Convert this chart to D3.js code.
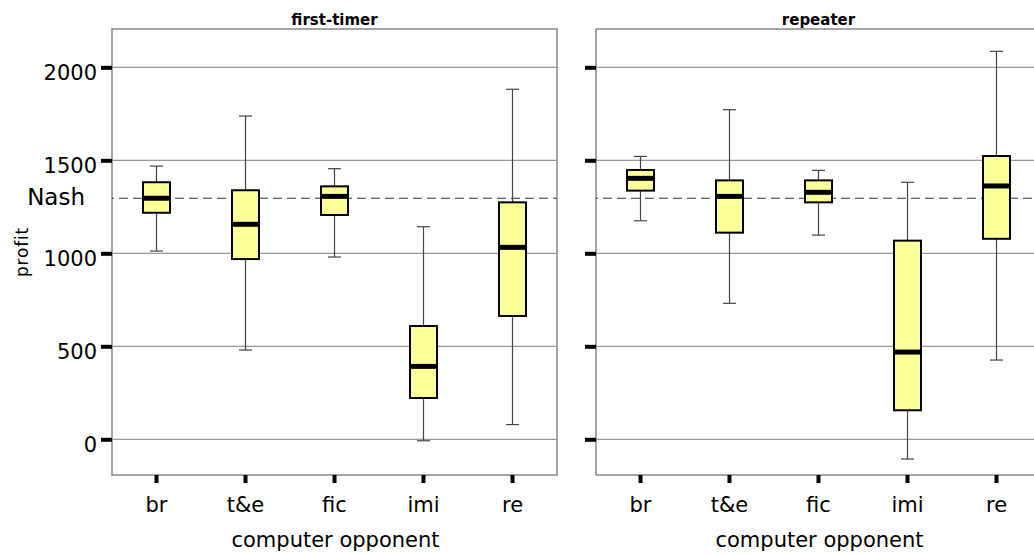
<!DOCTYPE html>
<html>
<head>
<meta charset="utf-8">
<script src="https://cdn.jsdelivr.net/npm/d3@7"></script>
<style>
  body { margin: 0; background: #fff; }
  text { font-family: "DejaVu Sans", sans-serif; fill: #000; }
</style>
</head>
<body>
<svg id="chart" width="1034" height="554"></svg>
<script>
// chart values
var categories = ["br", "t&e", "fic", "imi", "re"];
var groups = ["first-timer", "repeater"];
var yTicks = [0, 500, 1000, 1500, 2000];
var nash = 1296;

// one row per group, one value per category
var whiskerLow  = [[1012, 480,  980,   -8,   79], [1175,  731, 1098, -106,  426]];
var quart1      = [[1218, 969, 1206,  222,  663], [1337, 1111, 1274,  156, 1078]];
var medians     = [[1296, 1156, 1306, 392, 1032], [1403, 1306, 1328,  469, 1362]];
var quart3      = [[1382, 1339, 1360, 609, 1274], [1448, 1392, 1392, 1068, 1523]];
var whiskerHigh = [[1469, 1738, 1455, 1143, 1882], [1521, 1772, 1446, 1382, 2086]];

var svg = d3.select("#chart");
var FONT = "DejaVu Sans, sans-serif";

var panelLeft = [112, 596],
    panelW = 445,
    plotTop = 29, plotBottom = 475;

var y = d3.scaleLinear().domain([-192, 2206]).range([plotBottom, plotTop]);
var x = d3.scaleBand().domain(categories).range([0, panelW]);

var boxW = 27, capW = 13;

groups.forEach(function(name, gi) {
    var g = svg.append("g").attr("transform", "translate(" + panelLeft[gi] + ",0)");

    // grid
    g.selectAll(".grid").data(yTicks).enter().append("line")
        .attr("x1", 0).attr("x2", panelW)
        .attr("y1", d => y(d)).attr("y2", d => y(d))
        .style("stroke", "#999").style("stroke-width", 1.3);

    // panel frame
    g.append("rect")
        .attr("x", 0).attr("y", plotTop)
        .attr("width", panelW).attr("height", plotBottom - plotTop)
        .style("fill", "none").style("stroke", "#888").style("stroke-width", 1.5);

    // nash line
    g.append("line")
        .attr("x1", 0).attr("x2", panelW)
        .attr("y1", y(nash)).attr("y2", y(nash))
        .style("stroke", "#333").style("stroke-width", 1)
        .style("stroke-dasharray", "9,5").style("stroke-dashoffset", -7);

    // y axis (thick ticks)
    var yAxis = g.append("g").call(d3.axisLeft(y).tickValues(yTicks).tickSize(11).tickFormat(""));
    yAxis.select(".domain").remove();
    yAxis.selectAll(".tick line").style("stroke", "#000").style("stroke-width", 4);

    if (gi == 0) {
        yAxis.selectAll(".tick text")
            .text(d => d)
            .attr("x", -15).attr("dy", null).attr("y", 12.5)
            .attr("text-anchor", "end")
            .style("font-size", "21px")
            .style("font-family", FONT).style("fill", "#000");
    }

    // x axis
    var xAxis = g.append("g").attr("transform", "translate(0," + plotBottom + ")")
        .call(d3.axisBottom(x).tickSize(8));
    xAxis.select(".domain").remove();
    xAxis.selectAll(".tick line").style("stroke", "#000").style("stroke-width", 4);
    xAxis.selectAll(".tick text")
        .attr("y", 37).attr("dy", null)
        .style("font-size", "21px")
        .style("font-family", FONT).style("fill", "#000");

    g.append("text")
        .attr("x", panelW / 2 + 1).attr("y", 547)
        .attr("text-anchor", "middle")
        .style("font-size", "21px")
        .text("computer opponent");

    g.append("text")
        .attr("x", panelW / 2).attr("y", 25)
        .attr("text-anchor", "middle")
        .style("font-size", "15px").style("font-weight", "bold")
        .text(name);

    // boxes
    var rows = categories.map(function(c, i) {
        return { cat: c, lo: whiskerLow[gi][i], q1: quart1[gi][i], med: medians[gi][i],
                 q3: quart3[gi][i], hi: whiskerHigh[gi][i] };
    });

    var b = g.selectAll(".box").data(rows).enter().append("g")
        .attr("transform", d => "translate(" + (x(d.cat) + x.bandwidth() / 2) + ",0)");

    b.append("line")
        .attr("x1", 0).attr("x2", 0)
        .attr("y1", d => y(d.lo)).attr("y2", d => y(d.hi))
        .style("stroke", "#444").style("stroke-width", 1.2);
    b.append("line")
        .attr("x1", -capW / 2).attr("x2", capW / 2)
        .attr("y1", d => y(d.hi)).attr("y2", d => y(d.hi))
        .style("stroke", "#444").style("stroke-width", 1.2);
    b.append("line")
        .attr("x1", -capW / 2).attr("x2", capW / 2)
        .attr("y1", d => y(d.lo)).attr("y2", d => y(d.lo))
        .style("stroke", "#444").style("stroke-width", 1.2);
    b.append("rect")
        .attr("x", -boxW / 2).attr("width", boxW)
        .attr("y", d => y(d.q3)).attr("height", d => y(d.q1) - y(d.q3))
        .style("fill", "#ffff99").style("stroke", "#000").style("stroke-width", 2);
    b.append("line")
        .attr("x1", -boxW / 2).attr("x2", boxW / 2)
        .attr("y1", d => y(d.med)).attr("y2", d => y(d.med))
        .style("stroke", "#000").style("stroke-width", 5);
});

// left-hand labels
svg.append("text")
    .attr("x", 85).attr("y", 205)
    .attr("text-anchor", "end")
    .style("font-size", "23px")
    .text("Nash");

svg.append("text")
    .attr("transform", "translate(28,252) rotate(-90)")
    .attr("text-anchor", "middle")
    .style("font-size", "17px").style("letter-spacing", "0.8px")
    .text("profit");
</script>
</body>
</html>
